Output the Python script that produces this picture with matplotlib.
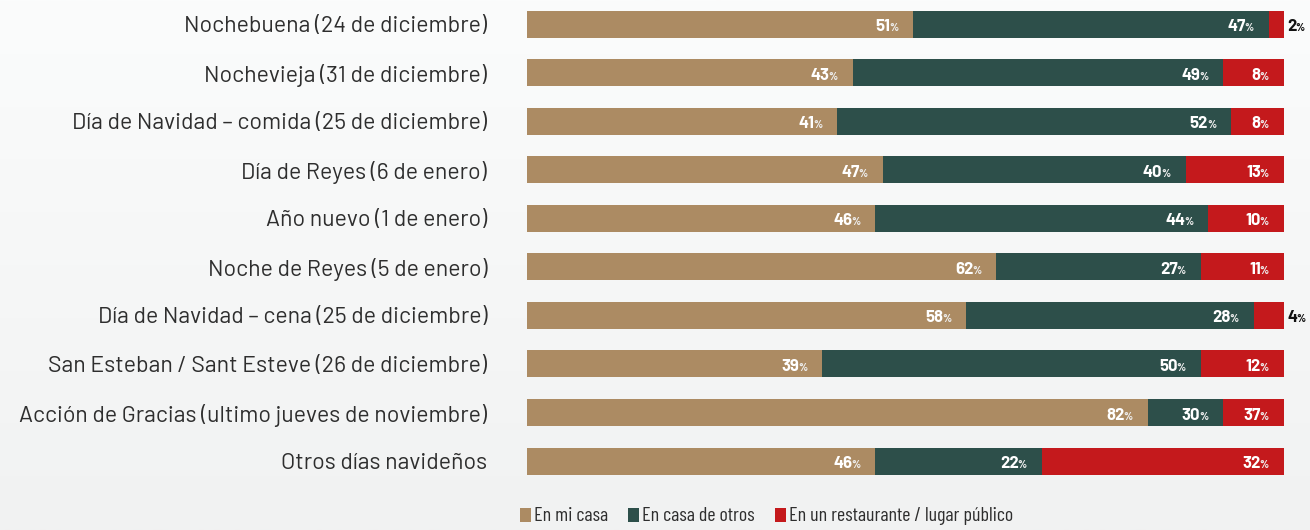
import numpy as np
import matplotlib
matplotlib.use("Agg")
import matplotlib.pyplot as plt
from matplotlib import font_manager
from matplotlib.patches import Rectangle

# ---------------- data ----------------
categories = [
    "Nochebuena (24 de diciembre)",
    "Nochevieja (31 de diciembre)",
    "Día de Navidad – comida (25 de diciembre)",
    "Día de Reyes (6 de enero)",
    "Año nuevo (1 de enero)",
    "Noche de Reyes (5 de enero)",
    "Día de Navidad – cena (25 de diciembre)",
    "San Esteban / Sant Esteve (26 de diciembre)",
    "Acción de Gracias (ultimo jueves de noviembre)",
    "Otros días navideños",
]
# drawn bar shares
home_share = [51, 43, 41, 47, 46, 62, 58, 39, 82, 46]
others_share = [47, 49, 52, 40, 44, 27, 38, 50, 10, 22]
public_share = [2, 8, 7, 13, 10, 11, 4, 11, 8, 32]
# printed value labels
home_label = [51, 43, 41, 47, 46, 62, 58, 39, 82, 46]
others_label = [47, 49, 52, 40, 44, 27, 28, 50, 30, 22]
public_label = [2, 8, 8, 13, 10, 11, 4, 12, 37, 32]
series_names = ["En mi casa", "En casa de otros", "En un restaurante / lugar público"]
colors = ["#ac8b63", "#2d4f4a", "#c4191c"]

# ---------------- fonts ----------------
available = {f.name for f in font_manager.fontManager.ttflist}
prefs = ["D-DIN", "DIN Alternate", "Barlow", "Roboto", "DejaVu Sans"]
font = next(p for p in prefs if p in available)
cond_prefs = ["Barlow Condensed", "Barlow Semi Condensed", "Roboto Condensed", "Liberation Sans Narrow", font]
cond_font = next(p for p in cond_prefs if p in available)
plt.rcParams["font.family"] = [font, "DejaVu Sans"]

W, H, DPI = 1310, 530, 100
fig = plt.figure(figsize=(W / DPI, H / DPI), dpi=DPI)

# background gradient
bg = fig.add_axes([0, 0, 1, 1], zorder=-10)
top = np.array([0xfb, 0xfc, 0xfc]) / 255
bot = np.array([0xf1, 0xf2, 0xf2]) / 255
t = np.linspace(0, 1, 256)[:, None]
grad = (top[None, :] * (1 - t) + bot[None, :] * t)[:, None, :]
bg.imshow(grad, aspect="auto", extent=[0, 1, 0, 1])
bg.set_axis_off()

# main axes
x0, x1 = 527, 1284
ax_top, ax_bot = 0, 485.3
ax = fig.add_axes([x0 / W, 1 - ax_bot / H, (x1 - x0) / W, (ax_bot - ax_top) / H])
ax.set_facecolor("none")
n = len(categories)
y = np.arange(n)
shares = [home_share, others_share, public_share]
labels = [home_label, others_label, public_label]
left = np.zeros(n)
for s, c in zip(shares, colors):
    ax.barh(y, s, left=left, height=0.556, color=c, linewidth=0)
    left = left + np.array(s)
ax.set_xlim(0, 100)
ax.set_ylim(n - 0.5, -0.5)
for sp in ax.spines.values():
    sp.set_visible(False)
ax.set_xticks([])
ax.set_yticks(y)

fig.canvas.draw()
r = fig.canvas.get_renderer()


def text_width(s, **kw):
    tt = fig.text(0, 0, s, **kw)
    w = tt.get_window_extent(r).width
    tt.remove()
    return w


# category labels sized to match reference width
cat_size = 10 * 468 / text_width(categories[8], fontsize=10)
ax.set_yticklabels(categories, fontsize=cat_size, color="#2e2e2e")
ax.tick_params(axis="y", length=0, pad=40 * 72 / DPI)

# value labels
num_size, pct_size = 12, 8
pct_w = text_width("%", fontsize=pct_size, weight="bold")
gap = 15
left = np.zeros(n)
for s, lab in zip(shares, labels):
    for i in range(n):
        right = left[i] + s[i]
        if s[i] < 5:
            t1 = ax.annotate(f"{lab[i]}", (right, y[i]), xytext=(3, -7), textcoords="offset pixels",
                             ha="left", va="baseline", fontsize=num_size, weight="bold", color="#111111")
            wnum = t1.get_window_extent(r).width
            ax.annotate("%", (right, y[i]), xytext=(3 + wnum - 1, -7), textcoords="offset pixels",
                        ha="left", va="baseline", fontsize=pct_size, weight="bold", color="#111111")
        else:
            ax.annotate("%", (right, y[i]), xytext=(-gap, -7), textcoords="offset pixels",
                        ha="right", va="baseline", fontsize=pct_size, weight="bold", color="#eeeeee")
            ax.annotate(f"{lab[i]}", (right, y[i]), xytext=(-gap - pct_w + 1, -7), textcoords="offset pixels",
                        ha="right", va="baseline", fontsize=num_size, weight="bold", color="white")
    left = left + np.array(s)

# legend (manual layout in figure pixels)
leg_kw = dict(family=[cond_font, "DejaVu Sans"])
leg_size = 10 * 224 / text_width(series_names[2], fontsize=10, **leg_kw)
lx = 520
for name, c in zip(series_names, colors):
    fig.patches.append(Rectangle((lx / W, 1 - 522 / H), 11 / W, 14 / H, transform=fig.transFigure,
                                 color=c, linewidth=0))
    tt = fig.text((lx + 14) / W, 1 - 521 / H, name, fontsize=leg_size, color="#2e2e2e",
                  ha="left", va="baseline", **leg_kw)
    lx = lx + 14 + tt.get_window_extent(r).width + 20

fig.savefig("out.png", dpi=DPI)
